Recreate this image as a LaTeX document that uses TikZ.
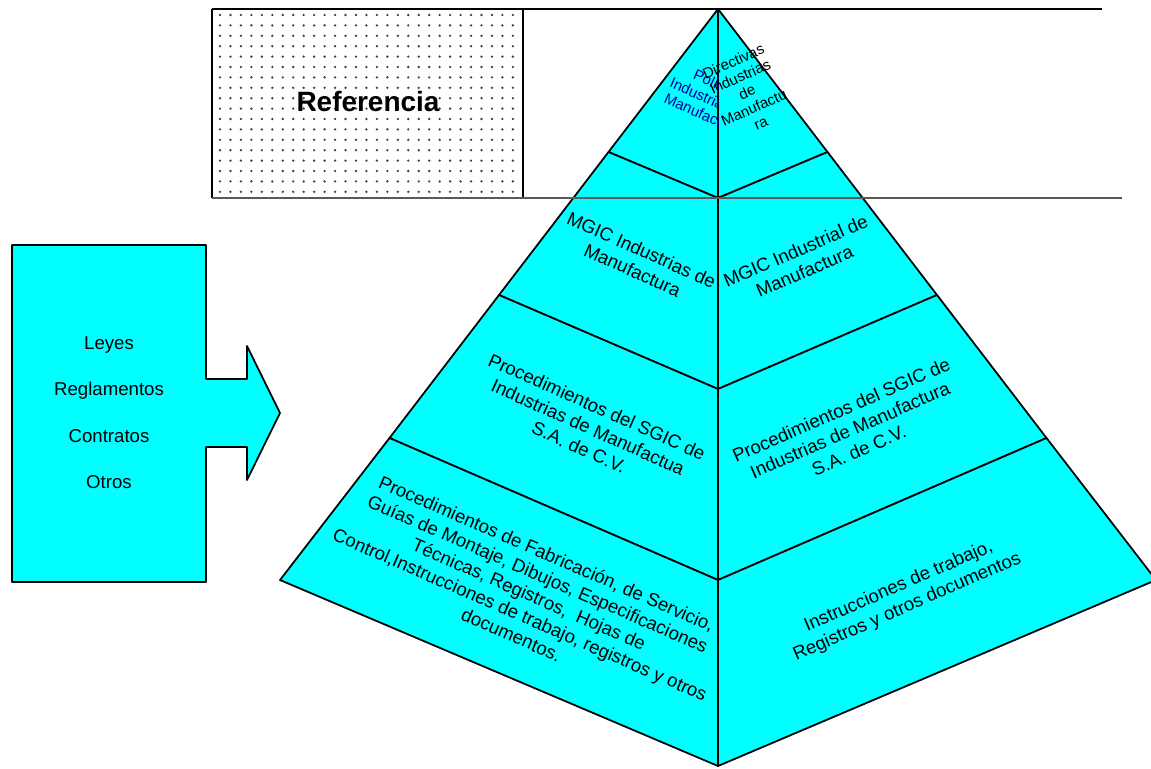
\documentclass[tikz,border=0pt]{standalone}
\usepackage{fontspec}
\setmainfont{Liberation Sans}
\definecolor{pyrcyan}{RGB}{0,255,255}
\definecolor{polblue}{RGB}{0,0,160}
\begin{document}
\begin{tikzpicture}[x=0.02cm,y=-0.02cm,
  face/.style={fill=pyrcyan,draw=black,line width=1pt,line join=round},
  lbl/.style={font=\fontsize{10.6}{12.6}\selectfont,align=center,inner sep=0pt},
  tinylbl/.style={font=\fontsize{8.5}{9.6}\selectfont,align=center,inner sep=0pt},
  rule/.style={line width=1pt},
  dot/.style={fill=black!75}]
\useasboundingbox (0,0) rectangle (1151,768);
\clip (0,0) rectangle (1151,768);

% pyramid vertices: apex, band corners on the left edge, centre line, right edge
\coordinate (A)  at (718,9);
\coordinate (L1) at (608.5,152);  \coordinate (C1) at (718,198);  \coordinate (R1) at (827.5,152);
\coordinate (L2) at (499,295);    \coordinate (C2) at (718,389);  \coordinate (R2) at (937,295);
\coordinate (L3) at (389.5,438);  \coordinate (C3) at (718,580);  \coordinate (R3) at (1046.5,438);
\coordinate (L4) at (280,580);    \coordinate (C4) at (718,766);  \coordinate (R4) at (1156,580);

% dotted reference panel
\foreach \i in {0,...,28}
  \foreach \j in {0,...,17}
    \fill[dot] (220+10.46*\i,15+10.4*\j) circle[radius=1.3];
\draw[rule] (212,9) -- (212,198);
\draw[rule] (523,9) -- (523,198);
\node[font=\fontsize{15.9}{18}\selectfont\bfseries,inner sep=0pt] (ref) at (368,102) {Referencia};

% faces of the pyramid
\draw[face] (A) -- (L1) -- (C1) -- cycle;
\draw[face] (A) -- (R1) -- (C1) -- cycle;
\draw[face] (L1) -- (L2) -- (C2) -- (C1) -- cycle;
\draw[face] (R1) -- (R2) -- (C2) -- (C1) -- cycle;
\draw[face] (L2) -- (L3) -- (C3) -- (C2) -- cycle;
\draw[face] (R2) -- (R3) -- (C3) -- (C2) -- cycle;
\draw[face] (L3) -- (L4) -- (C4) -- (C3) -- cycle;
\draw[face] (R3) -- (R4) -- (C4) -- (C3) -- cycle;
\draw[rule] (A) -- (C4);

% horizontal rules framing the top band
\draw[rule] (212,9) -- (1102,9);
\draw[rule,black!65] (212,198) -- (1122,198);

% top band texts
\begin{scope}
  \clip (A) -- (L1) -- (C1) -- cycle;
  \node[tinylbl,text=polblue,rotate=-24] (pol) at (710,99) {Política\\Industrias de\\Manufactura};
\end{scope}
\node[tinylbl,rotate=24] (dir) at (747,92) {Directivas\\Industrias\\de\\Manufactu\\ra};

% second band
\node[lbl,rotate=-24] (mgicl) at (637,260) {MGIC Industrias de\\Manufactura};
\node[lbl,rotate=23.5] (mgicr) at (800,261) {MGIC Industrial de\\Manufactura};

% third band
\node[lbl,rotate=-24] (procl) at (588,427) {Procedimientos del SGIC de\\Industrias de Manufactua\\S.A. de C.V.};
\node[lbl,rotate=23.5] (procr) at (850,430) {Procedimientos del SGIC de\\Industrias de Manufactura\\S.A. de C.V.};

% base band
\node[lbl,rotate=-23.5] (fabl) at (529,594) {Procedimientos de Fabricación, de Servicio,\\Guías de Montaje, Dibujos, Especificaciones\\Técnicas, Registros,\ \ Hojas de\\Control,Instrucciones de trabajo, registros y otros\\documentos.};
\node[lbl,rotate=23.5] (instr) at (903,597) {Instrucciones de trabajo,\\Registros y otros documentos};

% external requirements box with its arrow
\draw[face] (12,245) -- (206,245) -- (206,379) -- (247,379) -- (247,346) -- (280,413)
  -- (247,480) -- (247,447) -- (206,447) -- (206,582) -- (12,582) -- cycle;
\node[lbl] (leyes) at (109,345) {Leyes};
\node[lbl] (regl)  at (109,391) {Reglamentos};
\node[lbl] (contr) at (109,436) {Contratos};
\node[lbl] (otros) at (109,482) {Otros};
\end{tikzpicture}
\end{document}
